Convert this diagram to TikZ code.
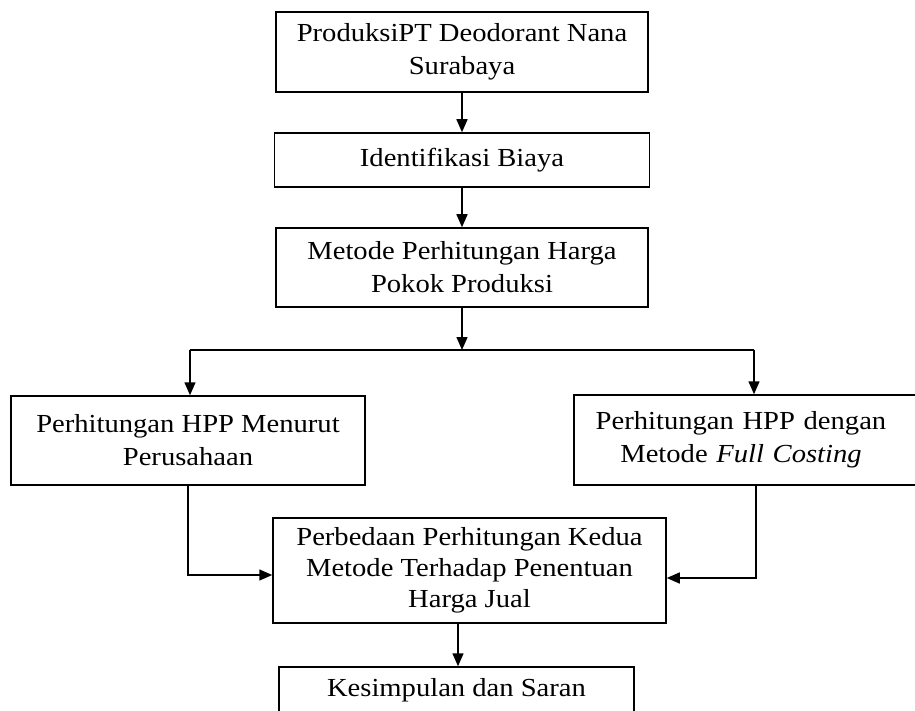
\documentclass[tikz,border=0pt]{standalone}
\usepackage{fontspec}
\setmainfont{Liberation Serif}[FakeStretch=1.1]
\usetikzlibrary{arrows.meta}
\begin{document}
\begin{tikzpicture}[x=1pt,y=-1pt,
  box/.style={draw, line width=1.5pt, align=center, inner sep=0pt,
    font=\fontsize{26}{33}\selectfont},
  arr/.style={line width=1.5pt, -{Triangle[length=13pt,width=11pt]}},
  ln/.style={line width=1.5pt}]
\useasboundingbox (0,0) rectangle (915,711);
\begin{scope}
\clip (0,0) rectangle (915,711);
\node[box, minimum width=372pt, minimum height=80pt] (b1) at (462,52)
  {ProduksiPT Deodorant Nana\\Surabaya};
\node[box, minimum width=375pt, minimum height=54pt] (b2) at (462,160)
  {Identifikasi Biaya};
\node[box, minimum width=372pt, minimum height=79pt] (b3) at (462,267.5)
  {Metode Perhitungan Harga\\Pokok Produksi};
\node[box, minimum width=354pt, minimum height=89pt] (L) at (188,440.5)
  {Perhitungan HPP Menurut\\Perusahaan};
\node[box, minimum width=366pt, minimum height=90pt, text width=340pt] (R) at (757,440)
  {\hspace*{-32pt}Perhitungan HPP dengan\\\hspace*{-32pt}Metode \textit{Full Costing}};
\node[box, minimum width=393pt, minimum height=105pt,
  font=\fontsize{26}{31}\selectfont] (C) at (469.5,570.5)
  {Perbedaan Perhitungan Kedua\\Metode Terhadap Penentuan\\Harga Jual};
\node[box, minimum width=355pt, minimum height=46pt] (K) at (456.5,690)
  {Kesimpulan dan Saran};
\coordinate (j) at (462,350);
\coordinate (jl) at (190,350);
\coordinate (jr) at (754,350);
\draw[arr] (b1) -- (b2);
\draw[arr] (b2) -- (b3);
\draw[arr] (b3.south) -- (j);
\draw[ln] (jl) -- (jr);
\draw[arr] (jl) -- (jl |- L.north);
\draw[arr] (jr) -- (jr |- R.north);
\draw[arr] (L.south) |- ([yshift=-4.5pt]C.west);
\draw[arr] ([xshift=-1pt]R.south) |- ([yshift=-7.5pt]C.east);
\draw[arr] ([xshift=-11.5pt]C.south) -- ([xshift=-11.5pt]C.south |- K.north);
\end{scope}
\end{tikzpicture}
\end{document}
